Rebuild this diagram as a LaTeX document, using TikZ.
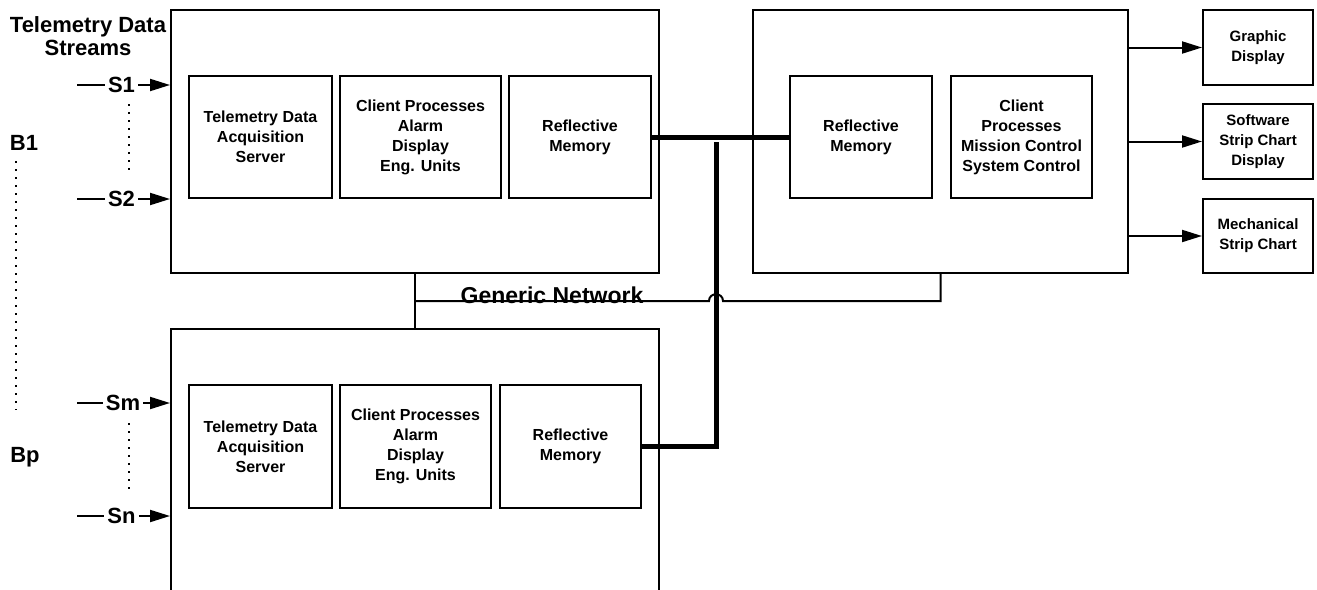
\documentclass[tikz,border=0pt]{standalone}
\usepackage{fontspec}
\setmainfont{Liberation Sans}
\usetikzlibrary{arrows.meta,calc}
\tikzset{
  box/.style={draw,line width=2pt,align=center,inner sep=2pt,font=\bfseries\fontsize{16}{20}\selectfont},
  bigbox/.style={draw,line width=2pt},
  outbox/.style={draw,line width=2pt,align=center,inner sep=2pt,minimum width=110pt,font=\bfseries\fontsize{15}{20}\selectfont},
  lbl/.style={inner sep=3pt,font=\bfseries\fontsize{22}{23}\selectfont,align=center},
  conn/.style={line width=2pt},
  arr/.style={line width=2pt,-{Triangle[length=20pt,width=12pt]}},
  bus/.style={line width=5pt},
  dots/.style={line width=2pt,dash pattern=on 2pt off 6pt},
}
\begin{document}
\begin{tikzpicture}[x=1pt,y=-1pt]
\useasboundingbox (0,0) rectangle (1317,589);
\clip (0,0) rectangle (1317,589);
\fill[white] (0,0) rectangle (1317,589);
% big boxes
\node[bigbox,minimum width=488pt,minimum height=263pt] (TL) at (415,141.5) {};
\node[bigbox,minimum width=375pt,minimum height=263pt] (R) at (940.5,141.5) {};
\node[bigbox,minimum width=488pt,minimum height=266pt] (BL) at (415,462) {};
% inner boxes top-left
\node[box,minimum width=143pt,minimum height=122pt] (tdas1) at (260.5,137) {Telemetry Data\\Acquisition\\Server};
\node[box,minimum width=161pt,minimum height=122pt] (cp1) at (420.5,137) {Client Processes\\Alarm\\Display\\Eng. Units};
\node[box,minimum width=142pt,minimum height=122pt] (rm1) at (580,137) {Reflective\\Memory};
% inner boxes right
\node[box,minimum width=142pt,minimum height=122pt] (rm2) at (861,137) {Reflective\\Memory};
\node[box,minimum width=141pt,minimum height=122pt] (cp2) at (1021.5,137) {Client\\Processes\\Mission Control\\System Control};
% inner boxes bottom
\node[box,minimum width=143pt,minimum height=123pt] (tdas2) at (260.5,446.5) {Telemetry Data\\Acquisition\\Server};
\node[box,minimum width=151pt,minimum height=123pt] (cp3) at (415.5,446.5) {Client Processes\\Alarm\\Display\\Eng. Units};
\node[box,minimum width=141pt,minimum height=123pt] (rm3) at (570.5,446.5) {Reflective\\Memory};
% output boxes
\node[outbox,minimum height=75pt] (gd) at (1258,47.5) {Graphic\\Display};
\node[outbox,minimum height=75pt] (ssc) at (1258,141.5) {Software\\Strip Chart\\Display};
\node[outbox,minimum height=74pt] (msc) at (1258,236) {Mechanical\\Strip Chart};
% output arrows
\draw[arr] (gd.west -| R.east) -- (gd.west);
\draw[arr] (ssc.west -| R.east) -- (ssc.west);
\draw[arr] (msc.west -| R.east) -- (msc.west);
% reflective memory bus
\coordinate (drop) at (716,142);
\draw[bus] (rm1.east) -- (rm2.west);
\draw[bus,line join=miter] (drop) -- (drop |- rm3.east) -- (rm3.east);
% generic network
\coordinate (netL) at ($(TL.south)!0.5!(BL.north)$);
\coordinate (hopL) at (709,301);
\coordinate (hopR) at (723,301);
\draw[conn] (TL.south) -- (BL.north);
\draw[conn] (netL) -- (hopL) .. controls (709,292) and (723,292) .. (hopR) -- (R.south |- netL) -- (R.south);
\node[font=\bfseries\fontsize{23}{23}\selectfont,anchor=base,inner sep=0pt] (gn) at (552,303) {Generic Network};
% left labels
\node[lbl] (tds) at (88,36.5) {Telemetry Data\\Streams};
\node[lbl] (S1) at (121.5,85) {S1};
\node[lbl] (S2) at (121.5,199) {S2};
\node[lbl] (Sm) at (123,403) {Sm};
\node[lbl] (Sn) at (121.5,516) {Sn};
\node[lbl] (B1) at (24,143) {B1};
\node[lbl] (Bp) at (25,457) {Bp};
\coordinate (s1in) at (77,85);
\coordinate (s2in) at (77,199);
\coordinate (smin) at (77,403);
\coordinate (snin) at (77,516);
\draw[conn] (s1in) -- (S1.west);
\draw[conn] (s2in) -- (S2.west);
\draw[conn] (smin) -- (Sm.west);
\draw[conn] (snin) -- (Sn.west);
\draw[arr] (S1.east) -- (S1.east -| TL.west);
\draw[arr] (S2.east) -- (S2.east -| TL.west);
\draw[arr] (Sm.east) -- (Sm.east -| BL.west);
\draw[arr] (Sn.east) -- (Sn.east -| BL.west);
% dotted lines
\coordinate (d1a) at (129,104);
\coordinate (d1b) at (129,172);
\coordinate (d2a) at (129,423);
\coordinate (d2b) at (129,490);
\coordinate (d3a) at (16,161);
\coordinate (d3b) at (16,410);
\draw[dots] (d1a) -- (d1b);
\draw[dots] (d2a) -- (d2b);
\draw[dots] (d3a) -- (d3b);
\end{tikzpicture}
\end{document}
